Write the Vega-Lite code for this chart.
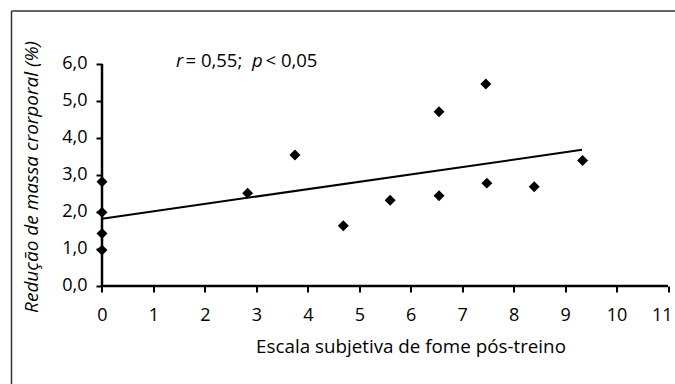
{
  "$schema": "https://vega.github.io/schema/vega-lite/v6.json",
  "width": 663.5,
  "height": 373,
  "autosize": {"type": "none"},
  "padding": {"left": 11.5, "top": 11, "right": 0, "bottom": 0},
  "background": "white",
  "config": {"view": {"stroke": null}, "font": "Open Sans", "axis": {"grid": false}},
  "datasets": {
    "frame": [
      {"x0": 0, "x1": 1, "y0": 1, "y1": 1},
      {"x0": 0, "x1": 0, "y0": 0, "y1": 1}
    ],
    "points": [
      {"fome": 0, "reducao": 2.82},
      {"fome": 0, "reducao": 1.99},
      {"fome": 0, "reducao": 1.42},
      {"fome": 0, "reducao": 0.97},
      {"fome": 2.83, "reducao": 2.51},
      {"fome": 3.75, "reducao": 3.54},
      {"fome": 4.69, "reducao": 1.63},
      {"fome": 5.6, "reducao": 2.32},
      {"fome": 6.55, "reducao": 4.71},
      {"fome": 6.55, "reducao": 2.44},
      {"fome": 7.46, "reducao": 5.46},
      {"fome": 7.48, "reducao": 2.78},
      {"fome": 8.4, "reducao": 2.68},
      {"fome": 9.34, "reducao": 3.39}
    ],
    "fit": [{"fome": 0, "reducao": 1.82, "fome2": 9.33, "reducao2": 3.68}],
    "axes": [
      {"fome": 0, "reducao": 0, "fome2": 11, "reducao2": 0},
      {"fome": 0, "reducao": 0, "fome2": 0, "reducao2": 6}
    ],
    "note": [
      {"fome": 1.438, "reducao": 5.927, "t": "r", "it": true},
      {"fome": 1.623, "reducao": 5.927, "t": "= 0,55;", "it": false},
      {"fome": 2.915, "reducao": 5.927, "t": "p", "it": true},
      {"fome": 3.178, "reducao": 5.927, "t": "< 0,05", "it": false}
    ]
  },
  "layer": [
    {
      "data": {"name": "frame"},
      "mark": {"type": "rule", "stroke": "#333333", "strokeWidth": 1.5},
      "encoding": {
        "x": {"field": "x0", "type": "quantitative", "scale": {"domain": [0, 1], "nice": false, "zero": false}, "axis": null},
        "x2": {"field": "x1"},
        "y": {"field": "y0", "type": "quantitative", "scale": {"domain": [0, 1], "nice": false, "zero": false}, "axis": null},
        "y2": {"field": "y1"}
      }
    },
    {
      "layer": [
        {
          "data": {"name": "axes"},
          "mark": {"type": "rule", "color": "black", "strokeWidth": 2.5},
          "encoding": {
            "x": {"field": "fome", "type": "quantitative",
              "scale": {"domain": [-1.7588, 11.136], "nice": false, "zero": false},
              "axis": {
                "title": "Escala subjetiva de fome pós-treino",
                "values": [0, 1, 2, 3, 4, 5, 6, 7, 8, 9, 10, 11],
                "offset": -98, "domain": false,
                "tickSize": 6, "tickWidth": 2, "tickColor": "black",
                "labelFontSize": 18, "labelColor": "black", "labelBaseline": "alphabetic",
                "labelPadding": 28, "labelFlush": false, "labelOverlap": false,
                "labelAlign": {"condition": {"test": "datum.value == 11", "value": "right"}, "value": "center"},
                "labelOffset": {"condition": {"test": "datum.value == 11", "value": 4}, "value": 0},
                "titleFontSize": 18.8, "titleFontWeight": "normal", "titleColor": "black",
                "titleX": 399, "titleY": 66, "titleBaseline": "alphabetic", "titleAlign": "center"
              }
            },
            "x2": {"field": "fome2"},
            "y": {"field": "reducao", "type": "quantitative",
              "scale": {"domain": [-2.6486, 7.4324], "nice": false, "zero": false},
              "axis": {
                "title": "Redução de massa crorporal (%)",
                "values": [0, 1, 2, 3, 4, 5, 6],
                "labelExpr": "replace(format(datum.value, '.1f'), '.', ',')",
                "offset": -90.5, "domain": false,
                "tickSize": 6, "tickWidth": 2, "tickColor": "black",
                "labelFontSize": 18, "labelColor": "black", "labelBaseline": "alphabetic",
                "labelPadding": 9, "labelOffset": 4.5, "labelFlush": false, "labelOverlap": false,
                "titleFontSize": 19, "titleFontWeight": "normal", "titleFontStyle": "italic", "titleColor": "black",
                "titleX": -65, "titleY": 165.5, "titleAngle": 270, "titleBaseline": "alphabetic", "titleAlign": "center"
              }
            },
            "y2": {"field": "reducao2"}
          }
        },
        {
          "data": {"name": "fit"},
          "mark": {"type": "rule", "color": "black", "strokeWidth": 2},
          "encoding": {
            "x": {"field": "fome", "type": "quantitative", "scale": {"domain": [-1.7588, 11.136], "nice": false, "zero": false}},
            "x2": {"field": "fome2"},
            "y": {"field": "reducao", "type": "quantitative", "scale": {"domain": [-2.6486, 7.4324], "nice": false, "zero": false}},
            "y2": {"field": "reducao2"}
          }
        },
        {
          "data": {"name": "points"},
          "mark": {"type": "point", "shape": "diamond", "filled": true, "size": 120, "color": "black", "opacity": 1},
          "encoding": {
            "x": {"field": "fome", "type": "quantitative", "scale": {"domain": [-1.7588, 11.136], "nice": false, "zero": false}},
            "y": {"field": "reducao", "type": "quantitative", "scale": {"domain": [-2.6486, 7.4324], "nice": false, "zero": false}}
          }
        },
        {
          "data": {"name": "note"},
          "transform": [{"filter": "datum.it"}],
          "mark": {"type": "text", "fontStyle": "italic", "fontSize": 18.5, "align": "left", "baseline": "alphabetic", "color": "black"},
          "encoding": {
            "x": {"field": "fome", "type": "quantitative", "scale": {"domain": [-1.7588, 11.136], "nice": false, "zero": false}},
            "y": {"field": "reducao", "type": "quantitative", "scale": {"domain": [-2.6486, 7.4324], "nice": false, "zero": false}},
            "text": {"field": "t"}
          }
        },
        {
          "data": {"name": "note"},
          "transform": [{"filter": "!datum.it"}],
          "mark": {"type": "text", "fontSize": 18.5, "align": "left", "baseline": "alphabetic", "color": "black"},
          "encoding": {
            "x": {"field": "fome", "type": "quantitative", "scale": {"domain": [-1.7588, 11.136], "nice": false, "zero": false}},
            "y": {"field": "reducao", "type": "quantitative", "scale": {"domain": [-2.6486, 7.4324], "nice": false, "zero": false}},
            "text": {"field": "t"}
          }
        }
      ]
    }
  ],
  "resolve": {"scale": {"x": "independent", "y": "independent"}, "axis": {"x": "independent", "y": "independent"}}
}
